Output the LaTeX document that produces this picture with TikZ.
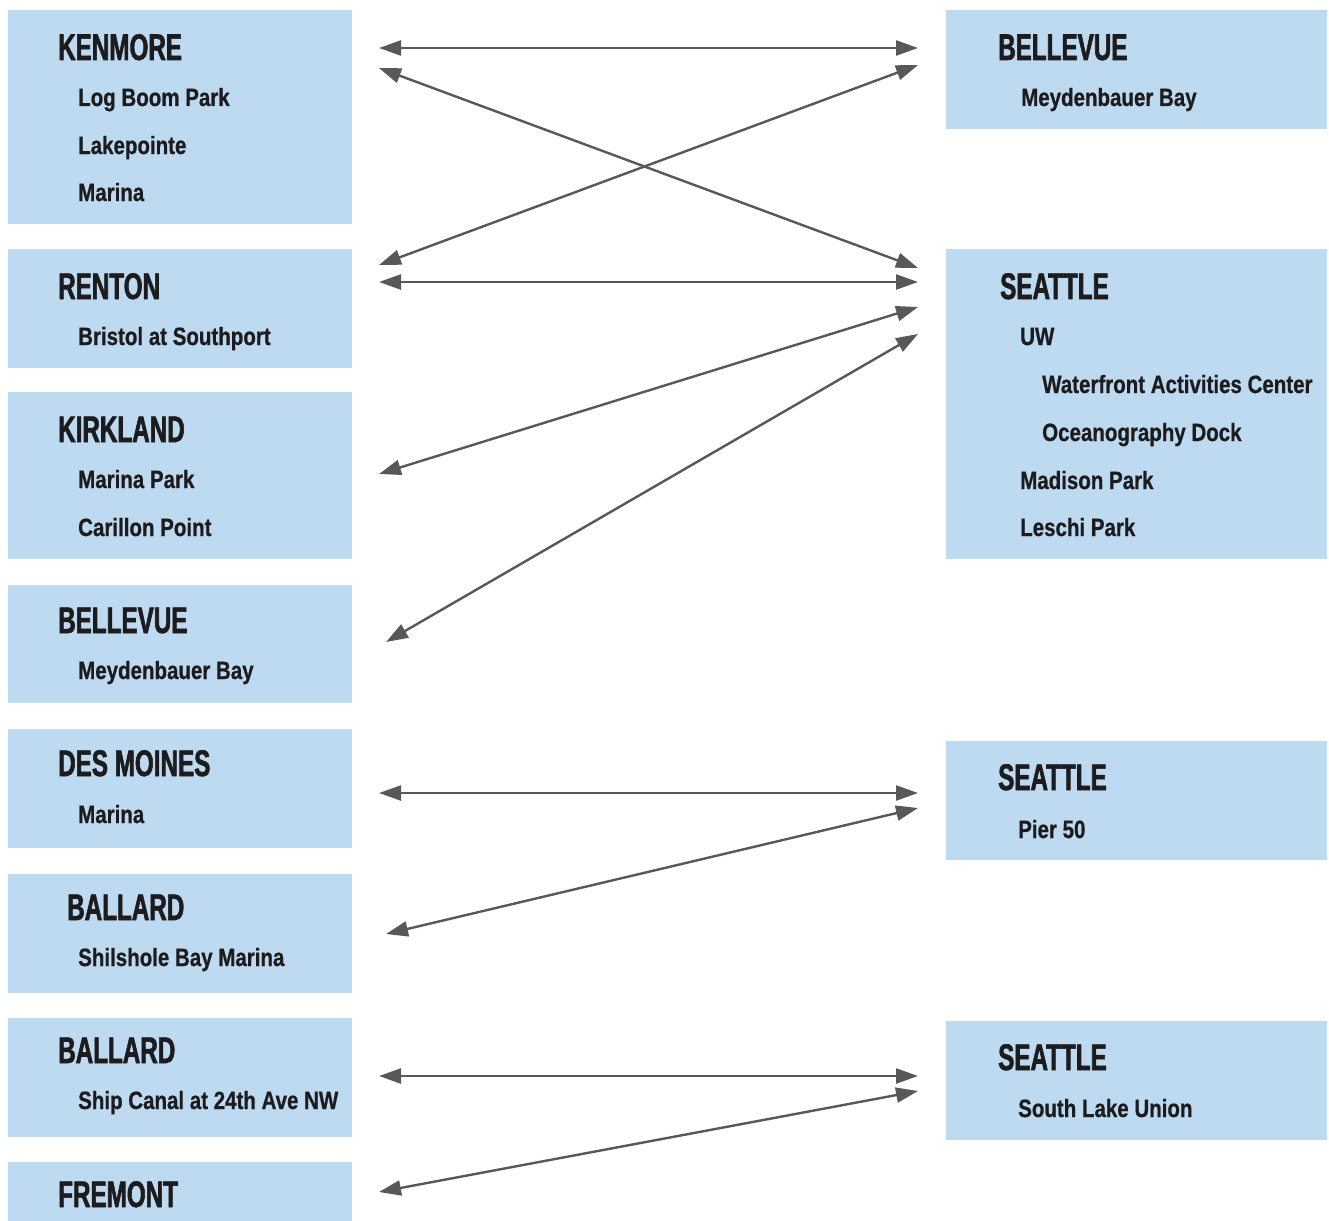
\documentclass[tikz,border=0pt]{standalone}
\usepackage{fontspec}
\setmainfont{Liberation Sans}
\newfontfamily\ttlfont[FakeStretch=0.655,FakeBold=1.6]{Liberation Sans}
\newfontfamily\subfont[FakeStretch=0.82,FakeBold=0.7]{Liberation Sans}
\usetikzlibrary{arrows.meta}
\definecolor{boxblue}{RGB}{190,218,240}
\definecolor{arrgray}{RGB}{88,88,90}
\definecolor{txt}{RGB}{28,28,30}
\tikzset{
  box/.style={fill=boxblue, draw=none},
  ttl/.style={anchor=base west, inner sep=0pt, text=txt, font=\ttlfont\bfseries\fontsize{37}{37}\selectfont},
  sub/.style={anchor=base west, inner sep=0pt, text=txt, font=\subfont\bfseries\fontsize{25}{25}\selectfont},
  link/.style={draw=arrgray, line width=2.4pt, {Triangle[length=22pt,width=15pt]}-{Triangle[length=22pt,width=15pt]}}
}
\begin{document}
\begin{tikzpicture}[x=1pt,y=-1pt]
\useasboundingbox (0,0) rectangle (1329,1220);
% left boxes
\path[box] (8,10) rectangle (352,224) coordinate (kenBox);
\path[box] (8,249) rectangle (352,368) coordinate (renBox);
\path[box] (8,392) rectangle (352,559) coordinate (kirBox);
\path[box] (8,585) rectangle (352,703) coordinate (belLBox);
\path[box] (8,729) rectangle (352,848) coordinate (desBox);
\path[box] (8,874) rectangle (352,993) coordinate (balBox);
\path[box] (8,1018) rectangle (352,1137) coordinate (balTwoBox);
\path[box] (8,1162) rectangle (352,1222) coordinate (freBox);
% right boxes
\path[box] (946,10) rectangle (1327,129) coordinate (belRBox);
\path[box] (946,249) rectangle (1327,559) coordinate (seaBox);
\path[box] (946,741) rectangle (1327,860) coordinate (seaPierBox);
\path[box] (946,1021) rectangle (1327,1140) coordinate (seaSluBox);
% left texts
\node[ttl] (ken) at (58,60) {KENMORE};
\node[sub] (ken1) at (78,106) {Log Boom Park};
\node[sub] (ken2) at (78,154) {Lakepointe};
\node[sub] (ken3) at (78,201) {Marina};
\node[ttl] (ren) at (58,299) {RENTON};
\node[sub] (ren1) at (78,345) {Bristol at Southport};
\node[ttl] (kir) at (58,442) {KIRKLAND};
\node[sub] (kir1) at (78,488) {Marina Park};
\node[sub] (kir2) at (78,536) {Carillon Point};
\node[ttl] (belL) at (58,633) {BELLEVUE};
\node[sub] (belL1) at (78,679) {Meydenbauer Bay};
\node[ttl] (des) at (58,776) {DES MOINES};
\node[sub] (des1) at (78,823) {Marina};
\node[ttl] (bal) at (67,920) {BALLARD};
\node[sub] (bal1) at (78,966) {Shilshole Bay Marina};
\node[ttl] (balTwo) at (58,1063) {BALLARD};
\node[sub] (balTwo1) at (78,1109) {Ship Canal at 24th Ave NW};
\node[ttl] (fre) at (58,1207) {FREMONT};
% right texts
\node[ttl] (belR) at (998,60) {BELLEVUE};
\node[sub] (belR1) at (1021,106) {Meydenbauer Bay};
\node[ttl] (sea) at (1000,299) {SEATTLE};
\node[sub] (sea1) at (1020,345) {UW};
\node[sub] (sea2) at (1042,393) {Waterfront Activities Center};
\node[sub] (sea3) at (1042,441) {Oceanography Dock};
\node[sub] (sea4) at (1020,489) {Madison Park};
\node[sub] (sea5) at (1020,536) {Leschi Park};
\node[ttl] (seaPier) at (998,790) {SEATTLE};
\node[sub] (seaPier1) at (1018,838) {Pier 50};
\node[ttl] (seaSlu) at (998,1070) {SEATTLE};
\node[sub] (seaSlu1) at (1018,1117) {South Lake Union};
% arrow end points
\coordinate (kenA) at (379,48);
\coordinate (kenB) at (379,68);
\coordinate (renA) at (379,265);
\coordinate (renB) at (379,282);
\coordinate (kirA) at (379,474);
\coordinate (belLA) at (386,642);
\coordinate (desA) at (379,793);
\coordinate (balA) at (386,934);
\coordinate (balTwoA) at (379,1076);
\coordinate (freA) at (379,1192);
\coordinate (belRA) at (918,48);
\coordinate (belRB) at (918,65);
\coordinate (seaA) at (918,268);
\coordinate (seaB) at (918,282);
\coordinate (seaC) at (918,307);
\coordinate (seaD) at (918,334);
\coordinate (pierA) at (918,793);
\coordinate (pierB) at (918,808);
\coordinate (sluA) at (918,1076);
\coordinate (sluB) at (918,1091);
% connectors
\draw[link] (kenA) -- (belRA);
\draw[link] (kenB) -- (seaA);
\draw[link] (renA) -- (belRB);
\draw[link] (renB) -- (seaB);
\draw[link] (kirA) -- (seaC);
\draw[link] (belLA) -- (seaD);
\draw[link] (desA) -- (pierA);
\draw[link] (balA) -- (pierB);
\draw[link] (balTwoA) -- (sluA);
\draw[link] (freA) -- (sluB);
\end{tikzpicture}
\end{document}
